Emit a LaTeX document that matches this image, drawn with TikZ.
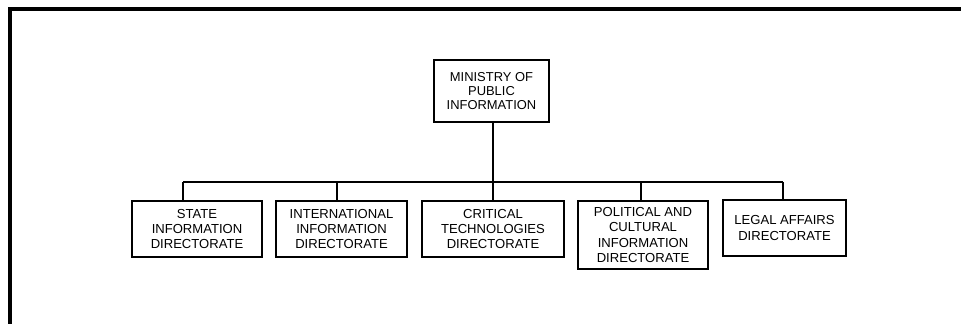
\documentclass[tikz,border=0pt]{standalone}
\usepackage{fontspec}
\setmainfont{Liberation Sans}
\begin{document}
\begin{tikzpicture}[x=0.75pt,y=-0.75pt,
  box/.style={draw,line width=0.8pt,align=center,inner sep=0pt,
    font=\fontsize{9.8pt}{11.6pt}\selectfont},
  topbox/.style={box,font=\fontsize{9.7pt}{10.4pt}\selectfont},
  conn/.style={line width=0.8pt},
  frame/.style={line width=3pt,line join=miter}]
\useasboundingbox (0,0) rectangle (961,324);
\draw[frame] (10,324) -- (10,9) -- (961,9);
\node[topbox,minimum width=115*0.75pt,minimum height=62*0.75pt] (top) at (491.5,91) {MINISTRY OF\\PUBLIC\\INFORMATION};
\node[box,minimum width=130*0.75pt,minimum height=56*0.75pt] (b1) at (197,229) {STATE\\INFORMATION\\DIRECTORATE};
\node[box,minimum width=131*0.75pt,minimum height=56*0.75pt] (b2) at (341.5,229) {INTERNATIONAL\\INFORMATION\\DIRECTORATE};
\node[box,minimum width=142*0.75pt,minimum height=56*0.75pt] (b3) at (493,229) {CRITICAL\\TECHNOLOGIES\\DIRECTORATE};
\node[box,minimum width=130*0.75pt,minimum height=68*0.75pt] (b4) at (643,235) {POLITICAL AND\\CULTURAL\\INFORMATION\\DIRECTORATE};
\node[box,minimum width=123*0.75pt,minimum height=56*0.75pt] (b5) at (784.5,228) {LEGAL AFFAIRS\\DIRECTORATE};
\coordinate (j1) at (183,182);
\coordinate (j2) at (337,182);
\coordinate (j3) at (493,182);
\coordinate (j4) at (641,182);
\coordinate (j5) at (783,182);
\draw[conn] (top.south -| j3) -- (j3);
\draw[conn] (j1) -- (j5);
\draw[conn] (j1) -- (j1 |- b1.north);
\draw[conn] (j2) -- (j2 |- b2.north);
\draw[conn] (j3) -- (j3 |- b3.north);
\draw[conn] (j4) -- (j4 |- b4.north);
\draw[conn] (j5) -- (j5 |- b5.north);
\end{tikzpicture}
\end{document}
